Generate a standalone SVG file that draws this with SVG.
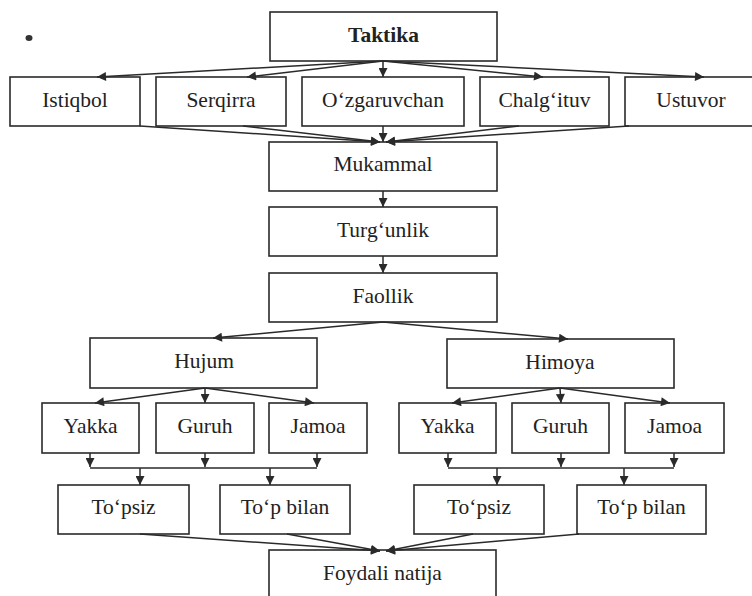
<svg xmlns="http://www.w3.org/2000/svg" width="752" height="596" viewBox="0 0 752 596">
<defs>
<style>
.box{fill:#fff;stroke:#2a2a2a;stroke-width:1.6}
.t{font-family:'Liberation Serif','Times New Roman','DejaVu Serif',serif;font-size:21.5px;fill:#222;text-anchor:middle}
.b{font-weight:bold}
.c{fill:none;stroke:#2a2a2a;stroke-width:1.5}
</style>
<marker id="ah" viewBox="0 0 10 10" refX="10" refY="5" markerWidth="10" markerHeight="9" markerUnits="userSpaceOnUse" orient="auto">
<path d="M0,0 L10,5 L0,10 z" fill="#2a2a2a"/>
</marker>
</defs>
<rect width="752" height="596" fill="#fff"/>
<ellipse cx="29" cy="38" rx="3.5" ry="3" fill="#333"/>

<g id="n-taktika"><rect class="box" x="270" y="12" width="227" height="49"/><text class="t b" x="383.5" y="42">Taktika</text></g>
<g id="n-istiqbol"><rect class="box" x="10" y="77" width="130" height="49"/><text class="t" x="75" y="107">Istiqbol</text></g>
<g id="n-serqirra"><rect class="box" x="156" y="77" width="130" height="49"/><text class="t" x="221" y="107">Serqirra</text></g>
<g id="n-ozgaruvchan"><rect class="box" x="302" y="77" width="162" height="49"/><text class="t" x="383" y="107">O‘zgaruvchan</text></g>
<g id="n-chalgituv"><rect class="box" x="480" y="77" width="129" height="49"/><text class="t" x="544.5" y="107">Chalg‘ituv</text></g>
<g id="n-ustuvor"><rect class="box" x="625" y="77" width="132" height="49"/><text class="t" x="691" y="107">Ustuvor</text></g>
<g id="n-mukammal"><rect class="box" x="269" y="142" width="228" height="49"/><text class="t" x="383" y="171">Mukammal</text></g>
<g id="n-turgunlik"><rect class="box" x="269" y="207" width="228" height="49"/><text class="t" x="383" y="237">Turg‘unlik</text></g>
<g id="n-faollik"><rect class="box" x="269" y="273" width="228" height="49"/><text class="t" x="383" y="303">Faollik</text></g>
<g id="n-hujum"><rect class="box" x="90" y="338" width="227" height="50"/><text class="t" x="204" y="368">Hujum</text></g>
<g id="n-himoya"><rect class="box" x="447" y="339" width="227" height="49"/><text class="t" x="560" y="369">Himoya</text></g>
<g id="n-yakka1"><rect class="box" x="42" y="403" width="97" height="50"/><text class="t" x="90.5" y="433">Yakka</text></g>
<g id="n-guruh1"><rect class="box" x="156" y="403" width="98" height="50"/><text class="t" x="205" y="433">Guruh</text></g>
<g id="n-jamoa1"><rect class="box" x="269" y="403" width="98" height="50"/><text class="t" x="318" y="433">Jamoa</text></g>
<g id="n-yakka2"><rect class="box" x="399" y="403" width="97" height="50"/><text class="t" x="447.5" y="433">Yakka</text></g>
<g id="n-guruh2"><rect class="box" x="512" y="403" width="97" height="50"/><text class="t" x="560.5" y="433">Guruh</text></g>
<g id="n-jamoa2"><rect class="box" x="625" y="403" width="99" height="50"/><text class="t" x="674.5" y="433">Jamoa</text></g>
<g id="n-topsiz1"><rect class="box" x="58" y="485" width="131" height="49"/><text class="t" x="123.5" y="514">To‘psiz</text></g>
<g id="n-topbilan1"><rect class="box" x="220" y="485" width="130" height="49"/><text class="t" x="285" y="514">To‘p bilan</text></g>
<g id="n-topsiz2"><rect class="box" x="414" y="485" width="130" height="49"/><text class="t" x="479" y="514">To‘psiz</text></g>
<g id="n-topbilan2"><rect class="box" x="577" y="485" width="129" height="49"/><text class="t" x="641.5" y="514">To‘p bilan</text></g>
<g id="n-foydali"><rect class="box" x="269" y="550" width="227" height="60"/><text class="t" x="382.5" y="580">Foydali natija</text></g>

<g id="connectors">
<line class="c" x1="383" y1="61" x2="97" y2="77" marker-end="url(#ah)"/>
<line class="c" x1="383" y1="61" x2="247" y2="77" marker-end="url(#ah)"/>
<line class="c" x1="383" y1="61" x2="383" y2="77" marker-end="url(#ah)"/>
<line class="c" x1="383" y1="61" x2="543" y2="77" marker-end="url(#ah)"/>
<line class="c" x1="383" y1="61" x2="704" y2="77" marker-end="url(#ah)"/>

<line class="c" x1="140" y1="126" x2="380" y2="142" marker-end="url(#ah)"/>
<line class="c" x1="243" y1="126" x2="380" y2="142" marker-end="url(#ah)"/>
<line class="c" x1="383" y1="126" x2="383" y2="142" marker-end="url(#ah)"/>
<line class="c" x1="519" y1="126" x2="386" y2="142" marker-end="url(#ah)"/>
<line class="c" x1="629" y1="126" x2="386" y2="142" marker-end="url(#ah)"/>

<line class="c" x1="383" y1="191" x2="383" y2="207" marker-end="url(#ah)"/>
<line class="c" x1="383" y1="256" x2="383" y2="273" marker-end="url(#ah)"/>

<line class="c" x1="383" y1="322" x2="213" y2="338" marker-end="url(#ah)"/>
<line class="c" x1="383" y1="322" x2="568" y2="339" marker-end="url(#ah)"/>

<line class="c" x1="205" y1="388" x2="95" y2="403" marker-end="url(#ah)"/>
<line class="c" x1="205" y1="388" x2="205" y2="403" marker-end="url(#ah)"/>
<line class="c" x1="205" y1="388" x2="314" y2="403" marker-end="url(#ah)"/>

<line class="c" x1="560" y1="388" x2="452" y2="403" marker-end="url(#ah)"/>
<line class="c" x1="560" y1="388" x2="561" y2="403" marker-end="url(#ah)"/>
<line class="c" x1="560" y1="388" x2="670" y2="403" marker-end="url(#ah)"/>

<line class="c" x1="90" y1="453" x2="90" y2="467" marker-end="url(#ah)"/>
<line class="c" x1="205" y1="453" x2="205" y2="467" marker-end="url(#ah)"/>
<line class="c" x1="317" y1="453" x2="317" y2="467" marker-end="url(#ah)"/>
<line class="c" x1="90" y1="468" x2="317" y2="468"/>
<line class="c" x1="140" y1="468" x2="140" y2="485" marker-end="url(#ah)"/>
<line class="c" x1="270" y1="468" x2="270" y2="485" marker-end="url(#ah)"/>

<line class="c" x1="448" y1="453" x2="448" y2="467" marker-end="url(#ah)"/>
<line class="c" x1="561" y1="453" x2="561" y2="467" marker-end="url(#ah)"/>
<line class="c" x1="674" y1="453" x2="674" y2="467" marker-end="url(#ah)"/>
<line class="c" x1="448" y1="468" x2="674" y2="468"/>
<line class="c" x1="497" y1="468" x2="497" y2="485" marker-end="url(#ah)"/>
<line class="c" x1="624" y1="468" x2="624" y2="485" marker-end="url(#ah)"/>

<line class="c" x1="140" y1="534" x2="380" y2="551" marker-end="url(#ah)"/>
<line class="c" x1="287" y1="534" x2="380" y2="551" marker-end="url(#ah)"/>
<line class="c" x1="473" y1="534" x2="386" y2="551" marker-end="url(#ah)"/>
<line class="c" x1="579" y1="534" x2="386" y2="551" marker-end="url(#ah)"/>
</g>
</svg>
